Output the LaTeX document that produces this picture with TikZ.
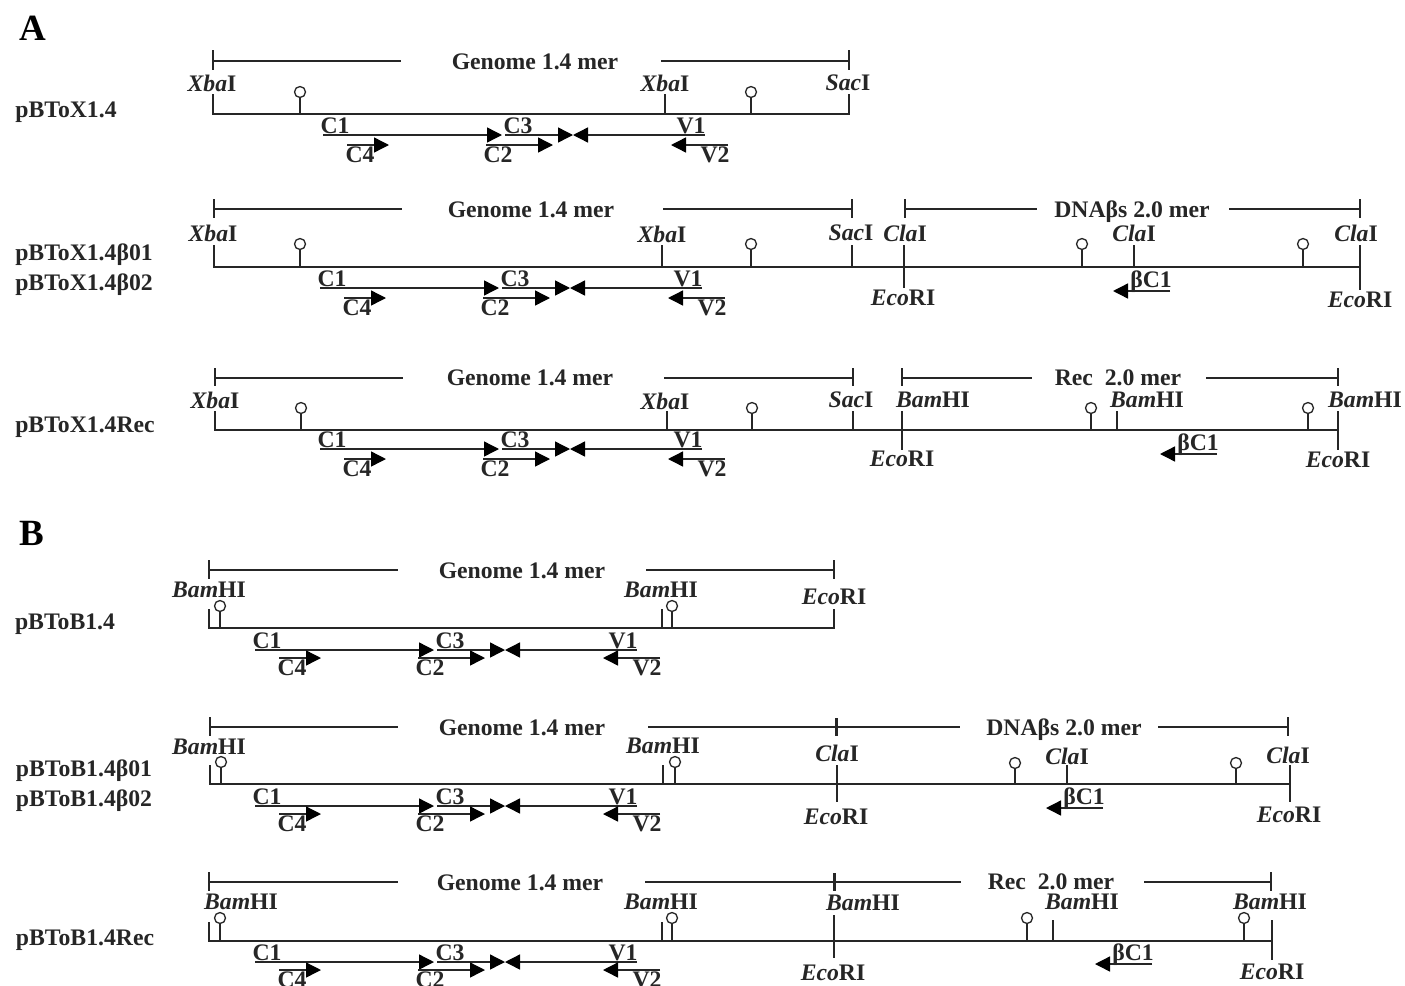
\documentclass[tikz,border=0pt]{standalone}
\usepackage{fontspec}
\setmainfont{Liberation Serif}
\usetikzlibrary{arrows.meta}
\definecolor{ink}{HTML}{262626}
\newcount\lblcnt
\tikzset{
  x=1pt,y=-1pt,
  ln/.style={draw=ink,line width=1.6pt},
  thin ln/.style={draw=ink,line width=1.3pt},
  gn/.style={draw=ink,line width=1.4pt,-{Triangle[length=15pt,width=15pt,color=black,fill=black]}},
  lbl/.style={inner sep=0pt,text=ink,font=\fontsize{23.7}{26}\selectfont\bfseries},
  hd/.style={inner sep=0pt,text=black,font=\fontsize{37}{40}\selectfont\bfseries},
  pin/.style={circle,draw=ink,line width=1.3pt,fill=white,minimum size=11pt,inner sep=0pt},
}
\newcommand{\tx}[3]{\global\advance\lblcnt by 1 \node[lbl] (t\the\lblcnt) at (#1,#2) {#3};}
% text with descenders: its box centre sits higher than its letters
\newcommand{\txd}[3]{\tx{#1}{#2+2.5}{#3}}
\newcommand{\bam}{\textit{Bam}HI}
\newcommand{\xba}{\textit{Xba}I}
\newcommand{\sac}{\textit{Sac}I}
\newcommand{\cla}{\textit{Cla}I}
\newcommand{\eco}{\textit{Eco}RI}
% lollipop: x, baseline, circle centre y
\newcommand{\lol}[3]{\draw[thin ln] (#1,#2) -- (#1,#3); \global\advance\lblcnt by 1 \node[pin] (p\the\lblcnt) at (#1,#3) {};}
% tick: x, y1, y2
\newcommand{\tick}[3]{\draw[thin ln] (#1,#2) -- (#1,#3);}
% gene set: dx, dy relative to the first row, second-row offset
\newcommand{\genes}[3]{%
\begin{scope}[shift={(#1,#2)}]
\draw[gn] (323,135) -- (502,135);
\draw[gn] (505,135) -- (573,135);
\draw[gn] (705,135) -- (573,135);
\draw[gn] (347,145+#3) -- (389,145+#3);
\draw[gn] (486,145+#3) -- (553,145+#3);
\draw[gn] (728,145+#3) -- (671,145+#3);
\tx{335}{126}{C1}\tx{518}{126}{C3}\tx{691}{126}{V1}
\tx{360}{155+#3}{C4}\tx{498}{155+#3}{C2}\tx{715}{155+#3}{V2}
\end{scope}}
\newcommand{\bc}[2]{%
\draw[gn] (#1+19,#2+12) -- (#1-38,#2+12);
\txd{#1}{#2}{βC1}}
\begin{document}
\begin{tikzpicture}
\useasboundingbox (0,0) rectangle (1405,985);
\clip (0,0) rectangle (1405,985);
\fill[white] (0,0) rectangle (1405,985);
% ---- A
\node[hd] (A) at (33,28) {A};
% A1
\txd{66}{110}{pBToX1.4}
\draw[ln] (213,61) -- (401,61); \draw[ln] (661,61) -- (849,61);
\tick{213}{50}{70}\tick{849}{50}{70}
\tx{535}{62}{Genome 1.4 mer}
\tx{212}{83}{\xba}\tx{665}{83}{\xba}\tx{848}{83}{\sac}
\draw[ln] (213,94) -- (213,114) -- (849,114) -- (849,94);
\tick{665}{94}{114}
\lol{300}{114}{92}\lol{751}{114}{92}
\genes{0}{0}{0}
% A2
\txd{84}{252}{pBToX1.4β01}\txd{84}{282}{pBToX1.4β02}
\draw[ln] (214,209) -- (402,209); \draw[ln] (663,209) -- (852,209);
\tick{214}{199}{218}\tick{852}{199}{218}
\tx{531}{210}{Genome 1.4 mer}
\draw[ln] (905,209) -- (1037,209); \draw[ln] (1229,209) -- (1360,209);
\tick{905}{199}{218}\tick{1360}{199}{218}
\txd{1132}{209}{DNAβs 2.0 mer}
\tx{213}{233}{\xba}\tx{662}{234}{\xba}\tx{851}{233}{\sac}\tx{905}{233}{\cla}\tx{1134}{233}{\cla}\tx{1356}{233}{\cla}
\draw[ln] (214,245) -- (214,267) -- (1360,267);
\tick{662}{245}{267}\tick{852}{245}{267}\tick{904}{245}{288}\tick{1134}{245}{267}\tick{1360}{245}{290}
\lol{300}{267}{244}\lol{751}{267}{244}\lol{1082}{267}{244}\lol{1303}{267}{244}
\tx{903}{298}{\eco}\tx{1360}{300}{\eco}
\genes{-3}{153}{0}
\bc{1151}{279}
% A3
\txd{85}{425}{pBToX1.4Rec}
\draw[ln] (215,378) -- (403,378); \draw[ln] (664,378) -- (853,378);
\tick{215}{368}{386}\tick{853}{368}{386}
\tx{530}{378}{Genome 1.4 mer}
\draw[ln] (902,378) -- (1032,378); \draw[ln] (1206,378) -- (1338,378);
\tick{902}{368}{386}\tick{1338}{368}{386}
\tx{1118}{378}{Rec\ \ 2.0 mer}
\tx{215}{400}{\xba}\tx{665}{401}{\xba}\tx{851}{400}{\sac}\tx{933}{400}{\bam}\tx{1147}{400}{\bam}\tx{1365}{400}{\bam}
\draw[ln] (215,411) -- (215,430) -- (1338,430);
\tick{667}{411}{430}\tick{853}{411}{430}\tick{902}{411}{450}\tick{1117}{411}{430}\tick{1338}{411}{450}
\lol{301}{430}{408}\lol{752}{430}{408}\lol{1091}{430}{408}\lol{1308}{430}{408}
\tx{902}{459}{\eco}\tx{1338}{460}{\eco}
\genes{-3}{314}{0}
\bc{1198}{442}
% ---- B
\node[hd] (B) at (32,533) {B};
% B1
\txd{65}{622}{pBToB1.4}
\draw[ln] (209,570) -- (398,570); \draw[ln] (646,570) -- (834,570);
\tick{209}{560}{579}\tick{834}{560}{579}
\tx{522}{571}{Genome 1.4 mer}
\tx{209}{590}{\bam}\tx{661}{590}{\bam}\tx{834}{597}{\eco}
\draw[ln] (209,609) -- (209,628) -- (834,628) -- (834,609);
\tick{662}{609}{628}
\lol{220}{628}{606}\lol{672}{628}{606}
\genes{-68}{515}{-2}
% B2
\txd{84}{768}{pBToB1.4β01}\txd{84}{798}{pBToB1.4β02}
\draw[ln] (210,727) -- (398,727); \draw[ln] (648,727) -- (960,727); \draw[ln] (1158,727) -- (1288,727);
\tick{210}{717}{736}\tick{1288}{717}{736}
\draw[ink,line width=3pt] (836,718) -- (836,736);
\tx{522}{728}{Genome 1.4 mer}
\txd{1064}{727}{DNAβs 2.0 mer}
\tx{209}{747}{\bam}\tx{663}{746}{\bam}\tx{837}{753}{\cla}\tx{1067}{756}{\cla}\tx{1288}{755}{\cla}
\draw[ln] (210,765) -- (210,784) -- (1290,784);
\tick{663}{765}{784}\tick{837}{765}{802}\tick{1067}{765}{784}\tick{1290}{765}{802}
\lol{221}{784}{762}\lol{675}{784}{762}\lol{1015}{784}{763}\lol{1236}{784}{763}
\tx{836}{817}{\eco}\tx{1289}{815}{\eco}
\genes{-68}{671}{-2}
\bc{1084}{796}
% B3
\txd{85}{938}{pBToB1.4Rec}
\draw[ln] (209,882) -- (398,882); \draw[ln] (645,882) -- (961,882); \draw[ln] (1144,882) -- (1271,882);
\tick{209}{872}{891}\tick{1271}{872}{891}
\draw[ink,line width=3pt] (834,873) -- (834,891);
\tx{520}{883}{Genome 1.4 mer}
\tx{1051}{882}{Rec\ \ 2.0 mer}
\tx{241}{902}{\bam}\tx{661}{902}{\bam}\tx{863}{903}{\bam}\tx{1082}{902}{\bam}\tx{1270}{902}{\bam}
\draw[ln] (209,922) -- (209,941) -- (1272,941);
\tick{662}{922}{941}\tick{834}{915}{958}\tick{1053}{920}{941}\tick{1272}{920}{960}
\lol{220}{941}{918}\lol{672}{941}{918}\lol{1027}{941}{918}\lol{1244}{941}{918}
\tx{833}{973}{\eco}\tx{1272}{972}{\eco}
\genes{-68}{827}{-2}
\bc{1133}{952}
\end{tikzpicture}
\end{document}
